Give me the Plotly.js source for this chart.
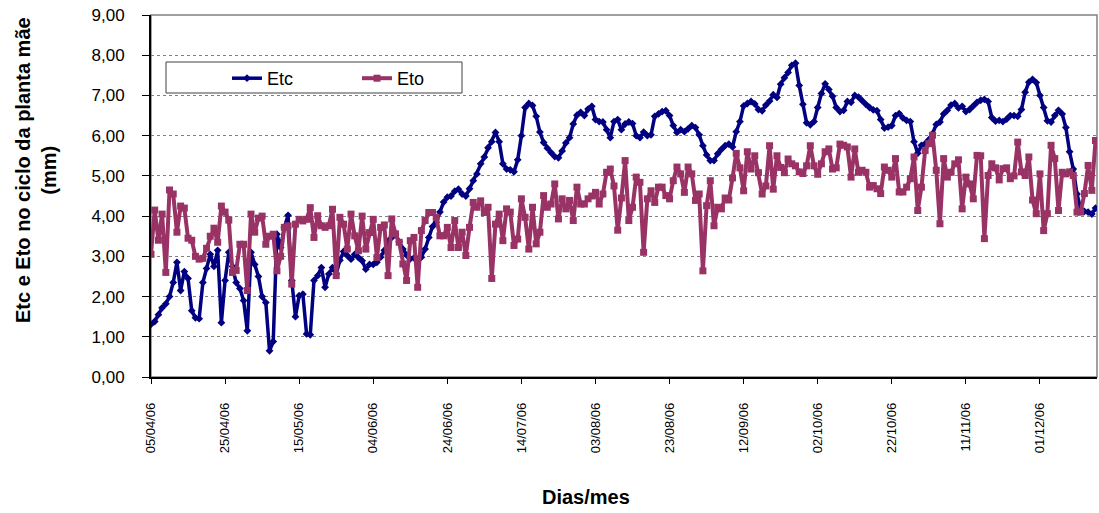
<!DOCTYPE html>
<html>
<head>
<meta charset="utf-8">
<script src="https://cdn.plot.ly/plotly-3.0.1.min.js"></script>
<style>html,body{margin:0;padding:0;background:#fff;}#chart{width:1099px;height:513px;}</style>
</head>
<body>
<div id="chart"></div>
<script>
// ---- data (daily values, starting 05/04/2006) ----
const startDate = "2006-04-05";
const seriesNames = ["Etc", "Eto"];
const tickLabels = ["05/04/06","25/04/06","15/05/06","04/06/06","24/06/06","14/07/06","03/08/06","23/08/06","12/09/06","02/10/06","22/10/06","11/11/06","01/12/06"];

const etc = [
1.31,1.38,1.55,1.72,1.82,2.00,2.35,2.85,2.15,2.62,
2.45,1.65,1.47,1.45,2.35,2.70,3.05,2.75,3.15,1.35,
2.40,3.10,2.75,2.35,2.20,1.90,1.15,3.10,2.80,2.50,
2.00,1.85,0.65,0.88,3.55,3.22,3.72,4.02,2.40,1.50,
2.02,2.06,1.07,1.05,2.40,2.52,2.72,2.23,2.56,2.72,
2.56,2.90,3.12,3.02,2.93,3.05,2.97,2.89,2.68,2.80,
2.80,2.85,2.98,3.15,3.38,3.47,3.55,3.36,3.18,3.03,
2.94,2.96,2.93,2.98,3.18,3.47,3.74,3.85,4.10,4.35,
4.47,4.50,4.62,4.67,4.55,4.50,4.68,4.88,5.05,5.30,
5.47,5.70,5.85,6.08,5.85,5.30,5.17,5.15,5.10,5.40,
6.00,6.70,6.80,6.75,6.48,6.09,5.83,5.69,5.58,5.48,
5.45,5.62,5.82,5.95,6.29,6.51,6.58,6.50,6.66,6.73,
6.40,6.35,6.34,6.15,5.95,6.35,6.40,6.15,6.29,6.34,
6.30,6.00,5.95,6.09,6.00,6.02,6.48,6.54,6.60,6.62,
6.50,6.25,6.08,6.15,6.10,6.17,6.25,6.20,6.02,5.75,
5.52,5.38,5.38,5.55,5.66,5.75,5.79,5.72,6.10,6.35,
6.74,6.80,6.85,6.79,6.65,6.62,6.76,6.86,7.02,6.95,
7.28,7.44,7.57,7.75,7.80,7.25,6.78,6.32,6.27,6.35,
6.70,7.05,7.29,7.15,6.98,6.70,6.60,6.63,6.85,6.83,
7.00,6.96,6.87,6.78,6.70,6.64,6.62,6.40,6.19,6.21,
6.25,6.50,6.55,6.44,6.38,6.35,5.85,5.56,5.76,5.80,
5.90,6.05,6.28,6.34,6.54,6.63,6.76,6.80,6.69,6.73,
6.60,6.65,6.74,6.83,6.88,6.90,6.85,6.45,6.36,6.38,
6.35,6.41,6.50,6.50,6.48,6.65,7.08,7.33,7.40,7.32,
7.00,6.70,6.37,6.34,6.50,6.63,6.54,6.20,5.60,5.17,
4.55,4.18,4.12,4.10,4.05,4.20
];

const eto = [
3.05,4.15,3.40,4.05,2.60,4.65,4.55,3.60,4.25,4.20,
3.45,3.40,3.00,2.93,2.95,3.20,3.50,3.70,3.35,4.25,
4.10,3.90,2.60,2.65,3.30,3.30,2.15,4.05,3.60,3.95,
4.00,3.30,3.50,3.55,2.64,3.00,3.72,3.76,2.31,3.80,
3.92,3.88,3.92,4.21,3.47,4.01,3.76,3.72,3.76,4.17,
2.52,3.97,3.80,3.18,4.05,3.51,3.14,4.00,3.18,3.59,
3.92,2.97,3.72,3.78,2.52,3.93,3.56,3.35,2.81,2.40,
3.39,3.47,2.23,3.64,3.89,4.09,4.09,3.97,3.51,3.51,
3.72,3.22,3.89,3.22,3.60,3.02,3.72,4.34,4.22,4.38,
4.09,4.22,2.45,3.80,4.05,3.39,4.18,4.10,3.27,3.43,
4.43,3.97,3.18,4.22,3.31,3.60,4.51,4.22,4.30,4.80,
3.93,4.43,4.18,4.39,3.89,4.72,4.30,4.30,4.43,4.50,
4.59,4.30,4.55,5.09,5.17,4.75,3.65,4.45,5.38,3.89,
4.22,4.97,4.84,3.10,4.43,4.63,4.34,4.72,4.72,4.51,
4.43,4.88,5.22,5.05,4.59,5.22,5.05,4.39,4.55,2.64,
4.26,4.88,3.76,4.22,4.18,4.45,4.40,4.95,5.56,5.20,
4.63,5.60,5.17,5.50,5.08,4.55,4.75,5.75,4.67,5.50,
5.21,5.08,5.42,5.30,5.25,5.10,5.06,5.25,5.75,5.25,
5.04,5.30,5.60,5.67,5.17,5.20,5.79,5.76,5.72,4.97,
5.67,5.09,5.14,5.09,4.72,4.76,4.68,4.56,5.22,5.14,
4.97,5.43,4.60,4.60,4.72,4.93,5.47,4.14,4.72,5.63,
5.80,6.01,5.14,3.81,5.43,4.97,5.09,5.30,5.40,4.18,
4.97,4.80,4.43,5.51,5.50,3.44,5.01,5.30,5.20,4.90,
5.18,5.20,4.93,5.00,5.84,5.10,5.01,5.47,4.40,4.06,
5.05,3.64,4.06,5.76,5.43,4.14,5.09,5.05,5.10,5.01,
4.10,4.10,4.56,5.26,4.64,5.88
];

// ---- helpers ----
const DAY = 86400000;
const t0 = Date.parse(startDate + "T00:00:00Z");
function iso(ms){ return new Date(ms).toISOString().slice(0,19).replace("T"," "); }
const dates = etc.map((_, i) => iso(t0 + i * DAY));
const tickVals = tickLabels.map(s => { const p = s.split("/"); return "20" + p[2] + "-" + p[1] + "-" + p[0]; });

const FONT = "Arial, 'Liberation Sans', sans-serif";

const traces = [
  { x: dates, y: etc, name: seriesNames[0], type: "scatter", mode: "lines+markers",
    line: { color: "#000080", width: 3.5 },
    marker: { symbol: "diamond", size: 6, color: "#000080" } },
  { x: dates, y: eto, name: seriesNames[1], type: "scatter", mode: "lines+markers",
    line: { color: "#993366", width: 4 },
    marker: { symbol: "square", size: 7, color: "#993366" } }
];

const L = 151, R = 2, T = 15, B = 136, W = 1099, H = 513;
const pw = W - L - R, ph = H - T - B;
const px2x = x => (x - L) / pw;
const py2y = y => (H - B - y) / ph;

const layout = {
  width: W, height: H,
  margin: { l: L, r: R, t: T, b: B, pad: 0 },
  paper_bgcolor: "#ffffff", plot_bgcolor: "#ffffff",
  separators: ",.",
  font: { family: FONT, color: "#000000", size: 13 },
  showlegend: true,
  legend: {
    orientation: "h", x: px2x(227), y: py2y(60), xanchor: "left", yanchor: "top",
    bgcolor: "rgba(0,0,0,0)", borderwidth: 0,
    font: { family: FONT, size: 18, color: "#000000" },
    entrywidth: 85, entrywidthmode: "pixels"
  },
  xaxis: {
    type: "date",
    range: [iso(t0), iso(t0 + 255.4 * DAY)],
    tickmode: "array", tickvals: tickVals, ticktext: tickLabels,
    tickangle: -90, tickfont: { family: FONT, size: 13, color: "#000000" },
    ticks: "outside", ticklen: 5, tickcolor: "#000000", tickwidth: 1,
    ticklabelstandoff: 14,
    showgrid: false, zeroline: false,
    showline: true, linecolor: "#000000", linewidth: 1.5, mirror: false
  },
  yaxis: {
    range: [0, 9], dtick: 1, tick0: 0, tickformat: ".2f",
    tickfont: { family: FONT, size: 17, color: "#000000" },
    ticks: "outside", ticklen: 7, tickcolor: "#000000", tickwidth: 1,
    ticklabelstandoff: 14,
    showgrid: true, gridcolor: "#808080", griddash: "dot", gridwidth: 1,
    zeroline: false,
    showline: true, linecolor: "#000000", linewidth: 2, mirror: false
  },
  shapes: [
    { type: "rect", xref: "paper", yref: "paper", x0: 0, x1: 1, y0: 0, y1: 1,
      line: { color: "#808080", width: 1.5 }, fillcolor: "rgba(0,0,0,0)", layer: "below" },
    { type: "rect", xref: "paper", yref: "paper",
      x0: px2x(166), x1: px2x(462), y0: py2y(93), y1: py2y(62),
      line: { color: "#404040", width: 1 }, fillcolor: "#ffffff", layer: "above" }
  ],
  annotations: [
    { text: "<b>Etc e Eto no ciclo da planta mãe<br>(mm)</b>", textangle: -90,
      xref: "paper", yref: "paper", x: px2x(36), y: py2y(170), xanchor: "center", yanchor: "middle",
      showarrow: false, font: { family: FONT, size: 20, color: "#000000" } },
    { text: "<b>Dias/mes</b>",
      xref: "paper", yref: "paper", x: px2x(586), y: py2y(497), xanchor: "center", yanchor: "middle",
      showarrow: false, font: { family: FONT, size: 20, color: "#000000" } }
  ]
};

Plotly.newPlot("chart", traces, layout, { displayModeBar: false, staticPlot: true });
</script>
</body>
</html>
